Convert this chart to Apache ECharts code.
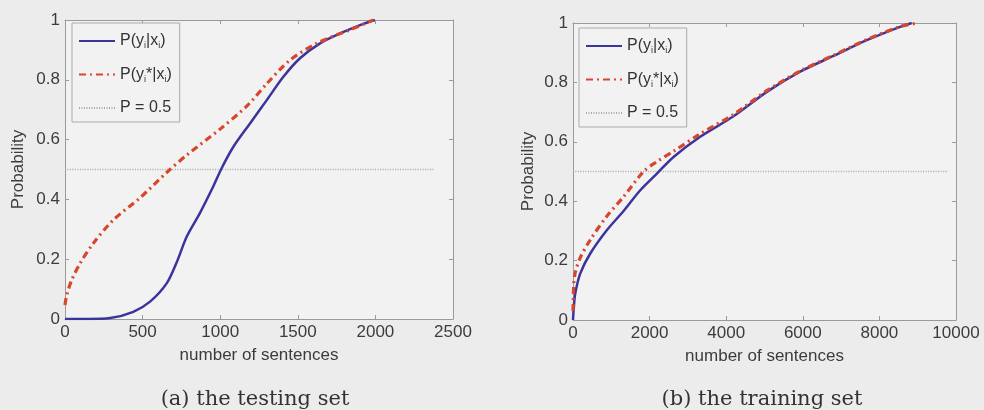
<!DOCTYPE html>
<html>
<head>
<meta charset="utf-8">
<script src="https://cdn.jsdelivr.net/npm/echarts@6/dist/echarts.min.js"></script>
<style>
  html, body { margin: 0; padding: 0; background: #ececec; }
  #chart { width: 984px; height: 410px; }
</style>
</head>
<body>
<div id="chart"></div>
<script>
// (a) testing set
var testBlueX = [0, 150, 290, 440, 548, 655, 720, 784, 870, 955, 1010, 1085, 1192, 1300, 1407, 1514, 1643, 1772, 1901, 1997]
var testBlueY = [0, 0, 0.003, 0.024, 0.058, 0.119, 0.19, 0.275, 0.355, 0.443, 0.505, 0.576, 0.654, 0.732, 0.81, 0.872, 0.922, 0.955, 0.983, 1.0]
var testRedX = [0, 11, 43, 97, 182, 311, 483, 655, 784, 999, 1171, 1300, 1450, 1622, 1836, 1986]
var testRedY = [0.047, 0.08, 0.13, 0.186, 0.253, 0.331, 0.405, 0.49, 0.548, 0.635, 0.712, 0.787, 0.866, 0.922, 0.967, 1.0]
var testHalfX = [0, 2375]

// (b) training set
var trainBlueX = [0, 20, 60, 190, 451, 887, 1320, 1756, 2191, 2625, 3321, 4190, 5061, 5930, 6799, 7670, 8539, 8844]
var trainBlueY = [0, 0.04, 0.09, 0.157, 0.224, 0.303, 0.367, 0.437, 0.493, 0.549, 0.617, 0.686, 0.768, 0.836, 0.889, 0.942, 0.987, 1.0]
var trainRedX = [0, 20, 60, 190, 451, 887, 1320, 1843, 2191, 2625, 3321, 4190, 5061, 5930, 6799, 7670, 8539, 9000]
var trainRedY = [0.03, 0.12, 0.16, 0.21, 0.27, 0.35, 0.415, 0.5, 0.533, 0.568, 0.627, 0.692, 0.772, 0.838, 0.891, 0.944, 0.988, 1.0]
var trainHalfX = [0, 9760]

var halfP = 0.5
var names = ['P(y_i|x_i)', 'P(y_i*|x_i)', 'P = 0.5']
var captions = ['(a) the testing set', '(b) the training set']

function zip(xs, ys) {
  return xs.map(function (x, i) { return [x, ys[i]] })
}
function flat(xs, v) {
  return xs.map(function (x) { return [x, v] })
}

var blue = '#3b349c'
var red = '#d8462c'
var axisGray = '#9a9a9a'
var sans = 'Liberation Sans, Arial, sans-serif'
var labelFont = { color: '#3c3c3c', fontSize: 17, fontFamily: sans }

function legendFmt(name) {
  if (name === names[0]) return '{a|P(y}{s|i}{a||x}{s|i}{a|)}'
  if (name === names[1]) return '{a|P(y}{s|i}{a|*|x}{s|i}{a|)}'
  return '{a|P = 0.5}'
}
var legendRich = {
  a: { fontSize: 16, color: '#333', fontFamily: sans },
  s: { fontSize: 9, color: '#333', padding: [10, 0, 0, 0], fontFamily: sans }
}

function xAx(grid, max, interval, pos) {
  return {
    type: 'value', gridIndex: grid, min: 0, max: max, interval: interval, position: pos,
    name: pos === 'bottom' ? 'number of sentences' : '',
    nameLocation: 'middle', nameGap: 28,
    nameTextStyle: { color: '#3c3c3c', fontSize: 17, fontFamily: sans },
    axisLine: { show: true, onZero: false, lineStyle: { color: axisGray } },
    axisTick: { show: true, inside: true, length: 4, lineStyle: { color: axisGray } },
    axisLabel: Object.assign({ show: pos === 'bottom', margin: 5, formatter: function (v) { return String(v) } }, labelFont),
    splitLine: { show: false }
  }
}
function yAx(grid, pos, gap) {
  return {
    type: 'value', gridIndex: grid, min: 0, max: 1, interval: 0.2, position: pos,
    name: pos === 'left' ? 'Probability' : '',
    nameLocation: 'middle', nameGap: gap,
    nameTextStyle: { color: '#3c3c3c', fontSize: 17, fontFamily: sans },
    axisLine: { show: true, onZero: false, lineStyle: { color: axisGray } },
    axisTick: { show: true, inside: true, length: 4, lineStyle: { color: axisGray } },
    axisLabel: Object.assign({ show: pos === 'left', margin: 5, formatter: function (v) { return String(v) } }, labelFont),
    splitLine: { show: false }
  }
}

function lineSeries(name, xi, yi, data, color, width, type) {
  return {
    name: name, type: 'line', xAxisIndex: xi, yAxisIndex: yi, data: data,
    showSymbol: false, symbol: 'none', smooth: 0.3,
    lineStyle: { color: color, width: width, type: type },
    itemStyle: { color: color }
  }
}

function legendAt(left, top) {
  return {
    orient: 'vertical', left: left, top: top, itemWidth: 36, itemHeight: 14, itemGap: 16,
    padding: [10, 8, 6, 6], borderColor: '#aaa', borderWidth: 1, backgroundColor: '#f2f2f2',
    itemStyle: { opacity: 0 },
    data: names, formatter: legendFmt, textStyle: { rich: legendRich }
  }
}

var captionStyle = { fontFamily: 'DejaVu Serif, Liberation Serif, serif', fontWeight: 'normal', fontSize: 21, color: '#333' }

var option = {
  backgroundColor: '#ececec',
  animation: false,
  title: [
    { text: captions[0], left: 250, top: 384, textAlign: 'center', textStyle: captionStyle },
    { text: captions[1], left: 757, top: 384, textAlign: 'center', textStyle: captionStyle }
  ],
  grid: [
    { left: 65, top: 20, width: 388, height: 299, show: true, borderWidth: 0, backgroundColor: '#f2f2f2' },
    { left: 573, top: 23, width: 383, height: 297, show: true, borderWidth: 0, backgroundColor: '#f2f2f2' }
  ],
  xAxis: [
    xAx(0, 2500, 500, 'bottom'), xAx(1, 10000, 2000, 'bottom'),
    xAx(0, 2500, 500, 'top'), xAx(1, 10000, 2000, 'top')
  ],
  yAxis: [
    yAx(0, 'left', 38), yAx(1, 'left', 36),
    yAx(0, 'right', 0), yAx(1, 'right', 0)
  ],
  legend: [legendAt(72, 23), legendAt(579, 28)],
  series: [
    lineSeries(names[2], 0, 0, flat(testHalfX, halfP), '#a8a8a8', 1.5, [1, 1.5]),
    lineSeries(names[0], 0, 0, zip(testBlueX, testBlueY), blue, 2.5, 'solid'),
    lineSeries(names[1], 0, 0, zip(testRedX, testRedY), red, 3.2, [7, 4, 2, 4]),
    lineSeries(names[2], 1, 1, flat(trainHalfX, halfP), '#a8a8a8', 1.5, [1, 1.5]),
    lineSeries(names[0], 1, 1, zip(trainBlueX, trainBlueY), blue, 2.5, 'solid'),
    lineSeries(names[1], 1, 1, zip(trainRedX, trainRedY), red, 3.2, [7, 4, 2, 4])
  ]
}

var chart = echarts.init(document.getElementById('chart'))
chart.setOption(option)
</script>
</body>
</html>
